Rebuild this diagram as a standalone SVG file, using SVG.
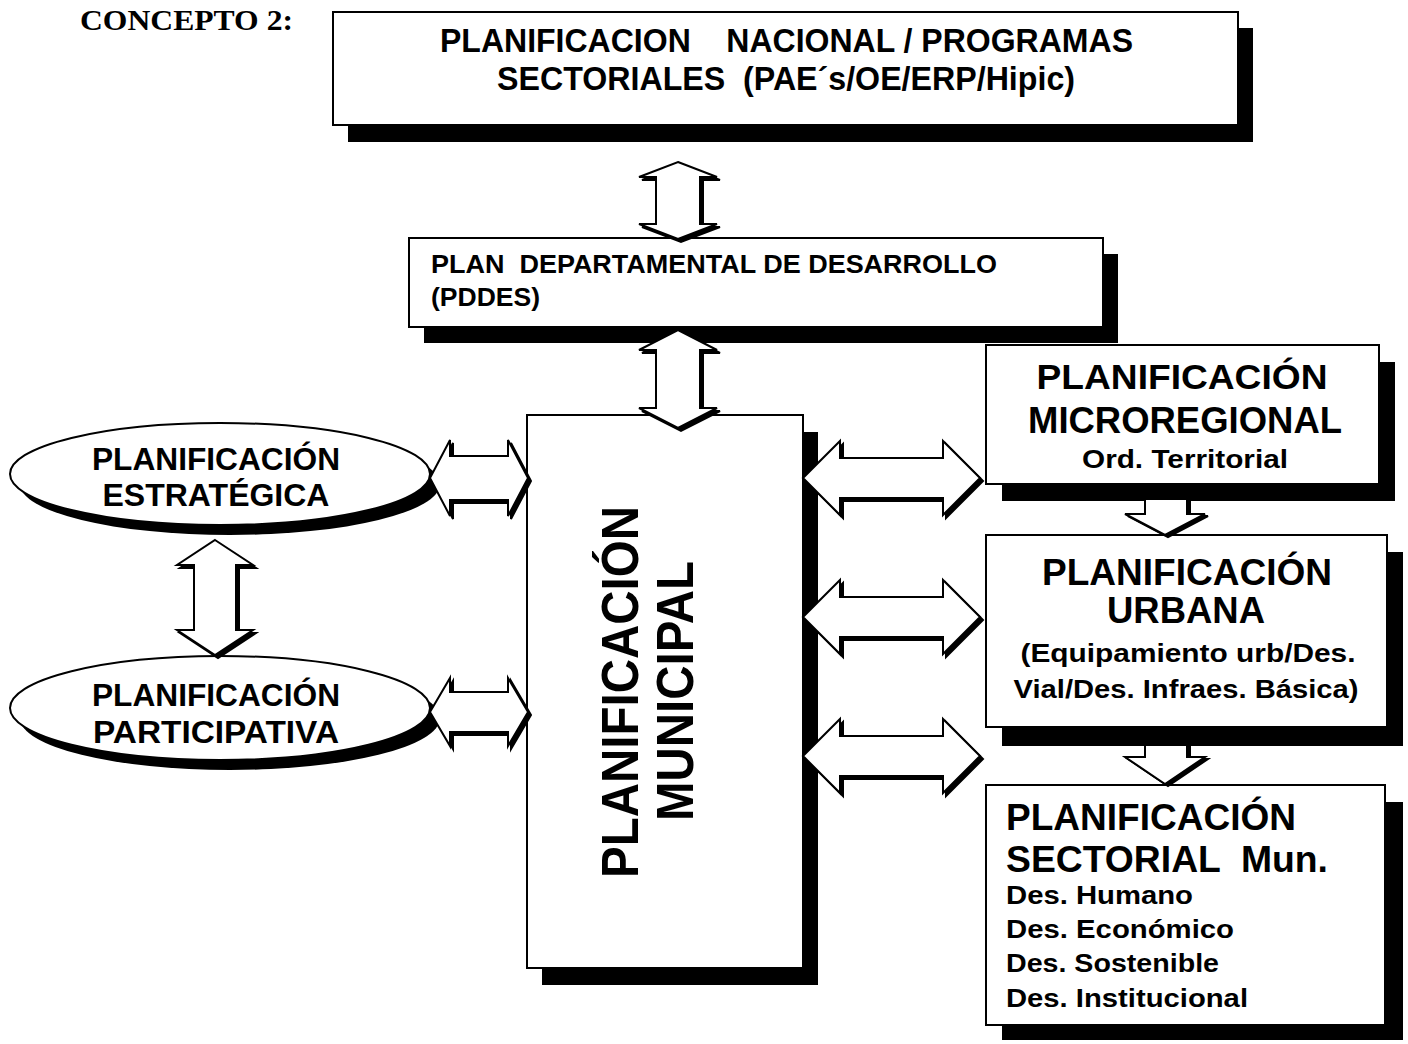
<svg xmlns="http://www.w3.org/2000/svg" xmlns:xlink="http://www.w3.org/1999/xlink" width="1408" height="1044" viewBox="0 0 1408 1044">
<style>
.t{font-family:"Liberation Sans",Arial,sans-serif;font-weight:bold;fill:#000}
.ts{font-family:"Liberation Serif","Times New Roman",serif;font-weight:bold;fill:#000}
.box{fill:#fff;stroke:#000;stroke-width:2}
.sh{fill:#000}
.arr{fill:#fff;stroke:#000;stroke-width:2;stroke-linejoin:miter}
.ash{fill:#000;stroke:#000;stroke-width:2}
</style>
<defs>
<polygon id="v1" points="678,162 717,177 700,177 700,224 717,224 678,239 639,224 656,224 656,177 639,177"/>
<polygon id="v2" points="678,330 717,350 700,350 700,408 717,408 678,428 639,408 656,408 656,350 639,350"/>
<polygon id="v3" points="215,540 253,565 236,565 236,630 253,630 215,655 177,630 194,630 194,565 177,565"/>
<polygon id="h1" points="430,478 450,440 450,456 508,456 508,440 528,478 508,516 508,500 450,500 450,516"/>
<polygon id="h2" points="430,712 450,678 450,692 508,692 508,678 528,712 508,746 508,732 450,732 450,746"/>
<polygon id="r1" points="803,478 840,441 840,458 943,458 943,441 980,478 943,515 943,498 840,498 840,515"/>
<polygon id="r2" points="803,617 840,580 840,597 943,597 943,580 980,617 943,654 943,637 840,637 840,654"/>
<polygon id="r3" points="803,756 840,719 840,736 943,736 943,719 980,756 943,793 943,776 840,776 840,793"/>
<polygon id="d1" points="1145,499 1187,499 1187,514 1205,514 1165,535 1125,514 1145,514"/>
<polygon id="d2" points="1145,745 1187,745 1187,757 1205,757 1165,784 1125,757 1145,757"/>
</defs>
<rect width="1408" height="1044" fill="#fff"/>
<text class="ts" x="80" y="30" font-size="29" textLength="213" lengthAdjust="spacingAndGlyphs">CONCEPTO 2:</text>

<g id="nacional">
<rect class="sh" x="348" y="28" width="905" height="114"/>
<rect class="box" x="333" y="12" width="905" height="113"/>
<text class="t" x="440" y="52" font-size="33" textLength="693" lengthAdjust="spacingAndGlyphs" xml:space="preserve">PLANIFICACION    NACIONAL / PROGRAMAS</text>
<text class="t" x="497" y="90" font-size="33" textLength="578" lengthAdjust="spacingAndGlyphs" xml:space="preserve">SECTORIALES  (PAE´s/OE/ERP/Hipic)</text>
</g>

<g id="pddes">
<rect class="sh" x="424" y="254" width="694" height="89"/>
<rect class="box" x="409" y="238" width="694" height="89"/>
<text class="t" x="431" y="273" font-size="25" textLength="566" lengthAdjust="spacingAndGlyphs" xml:space="preserve">PLAN  DEPARTAMENTAL DE DESARROLLO</text>
<text class="t" x="431" y="306" font-size="25" textLength="109" lengthAdjust="spacingAndGlyphs">(PDDES)</text>
</g>

<g id="municipal">
<rect class="sh" x="542" y="432" width="276" height="553"/>
<rect class="box" x="527" y="415" width="276" height="553"/>
<text class="t" transform="translate(638,692) rotate(-90)" text-anchor="middle" font-size="51" textLength="372" lengthAdjust="spacingAndGlyphs">PLANIFICACIÓN</text>
<text class="t" transform="translate(693,691) rotate(-90)" text-anchor="middle" font-size="51" textLength="260" lengthAdjust="spacingAndGlyphs">MUNICIPAL</text>
</g>

<g id="estrategica">
<ellipse class="sh" cx="230" cy="484" rx="210" ry="51"/>
<ellipse class="box" cx="220" cy="474" rx="210" ry="51"/>
<text class="t" x="216" y="470" text-anchor="middle" font-size="31" textLength="248" lengthAdjust="spacingAndGlyphs">PLANIFICACIÓN</text>
<text class="t" x="216" y="506" text-anchor="middle" font-size="31" textLength="227" lengthAdjust="spacingAndGlyphs">ESTRATÉGICA</text>
</g>

<g id="participativa">
<ellipse class="sh" cx="230" cy="718" rx="210" ry="52"/>
<ellipse class="box" cx="220" cy="708" rx="210" ry="52"/>
<text class="t" x="216" y="706" text-anchor="middle" font-size="31" textLength="248" lengthAdjust="spacingAndGlyphs">PLANIFICACIÓN</text>
<text class="t" x="216" y="743" text-anchor="middle" font-size="31" textLength="246" lengthAdjust="spacingAndGlyphs">PARTICIPATIVA</text>
</g>

<g id="microregional">
<rect class="sh" x="1002" y="362" width="393" height="139"/>
<rect class="box" x="986" y="345" width="393" height="139"/>
<text class="t" x="1182" y="389" text-anchor="middle" font-size="35" textLength="291" lengthAdjust="spacingAndGlyphs">PLANIFICACIÓN</text>
<text class="t" x="1185" y="433" text-anchor="middle" font-size="36" textLength="314" lengthAdjust="spacingAndGlyphs">MICROREGIONAL</text>
<text class="t" x="1185" y="468" text-anchor="middle" font-size="25" textLength="206" lengthAdjust="spacingAndGlyphs">Ord. Territorial</text>
</g>

<g id="urbana">
<rect class="sh" x="1002" y="552" width="401" height="194"/>
<rect class="box" x="986" y="535" width="401" height="192"/>
<text class="t" x="1187" y="585" text-anchor="middle" font-size="37" textLength="290" lengthAdjust="spacingAndGlyphs">PLANIFICACIÓN</text>
<text class="t" x="1186" y="623" text-anchor="middle" font-size="36" textLength="158" lengthAdjust="spacingAndGlyphs">URBANA</text>
<text class="t" x="1188" y="662" text-anchor="middle" font-size="26" textLength="335" lengthAdjust="spacingAndGlyphs">(Equipamiento urb/Des.</text>
<text class="t" x="1186" y="698" text-anchor="middle" font-size="26" textLength="345" lengthAdjust="spacingAndGlyphs">Vial/Des. Infraes. Básica)</text>
</g>

<g id="sectorial">
<rect class="sh" x="1002" y="802" width="401" height="238"/>
<rect class="box" x="986" y="785" width="399" height="240"/>
<text class="t" x="1006" y="830" font-size="36" textLength="290" lengthAdjust="spacingAndGlyphs">PLANIFICACIÓN</text>
<text class="t" x="1006" y="872" font-size="36" textLength="322" lengthAdjust="spacingAndGlyphs" xml:space="preserve">SECTORIAL  Mun.</text>
<text class="t" x="1006" y="904" font-size="25" textLength="187" lengthAdjust="spacingAndGlyphs">Des. Humano</text>
<text class="t" x="1006" y="938" font-size="25" textLength="228" lengthAdjust="spacingAndGlyphs">Des. Económico</text>
<text class="t" x="1006" y="972" font-size="25" textLength="213" lengthAdjust="spacingAndGlyphs">Des. Sostenible</text>
<text class="t" x="1006" y="1007" font-size="25" textLength="242" lengthAdjust="spacingAndGlyphs">Des. Institucional</text>
</g>

<g id="connectors">
<use xlink:href="#v1" class="ash" transform="translate(3,3)"/><use xlink:href="#v1" class="arr"/>
<use xlink:href="#v2" class="ash" transform="translate(3,3)"/><use xlink:href="#v2" class="arr"/>
<use xlink:href="#v3" class="ash" transform="translate(3,3)"/><use xlink:href="#v3" class="arr"/>
<use xlink:href="#h1" class="ash" transform="translate(3,3)"/><use xlink:href="#h1" class="arr"/>
<use xlink:href="#h2" class="ash" transform="translate(3,3)"/><use xlink:href="#h2" class="arr"/>
<use xlink:href="#r1" class="ash" transform="translate(3,3)"/><use xlink:href="#r1" class="arr"/>
<use xlink:href="#r2" class="ash" transform="translate(3,3)"/><use xlink:href="#r2" class="arr"/>
<use xlink:href="#r3" class="ash" transform="translate(3,3)"/><use xlink:href="#r3" class="arr"/>
<use xlink:href="#d1" class="ash" transform="translate(3,2)"/><use xlink:href="#d1" class="arr"/>
<use xlink:href="#d2" class="ash" transform="translate(3,2)"/><use xlink:href="#d2" class="arr"/>
</g>
</svg>
